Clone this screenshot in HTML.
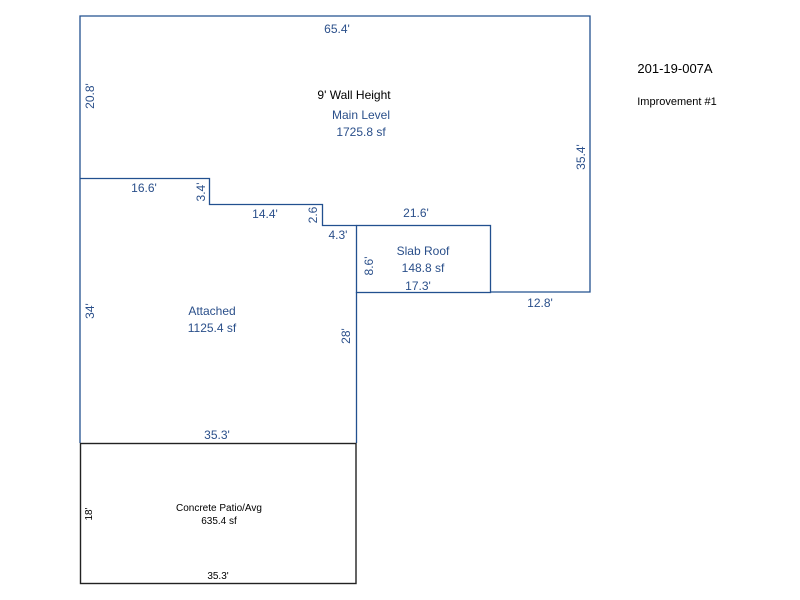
<!DOCTYPE html>
<html><head><style>
html,body{margin:0;padding:0;background:#fff;}
svg{display:block;}
text{font-family:"Liberation Sans",Arial,sans-serif;}
</style></head><body>
<svg width="800" height="600" xmlns="http://www.w3.org/2000/svg">
<g fill="none" stroke="#22508f" stroke-width="1.3">
<polyline points="80,443 80,16 590,16 590,292 490,292"/>
<polyline points="80,178.5 209.5,178.5 209.5,204.5 322.5,204.5 322.5,225.5 356.5,225.5"/>
<rect x="356.5" y="225.5" width="134" height="67"/>
<line x1="356.5" y1="292" x2="356.5" y2="443"/>
</g>
<rect x="80.5" y="443.5" width="275.5" height="140" fill="none" stroke="#222" stroke-width="1.4"/>
<g fill="#2a4f8a" font-size="12">
<text x="337" y="33" text-anchor="middle">65.4'</text>
<text x="361" y="119" text-anchor="middle">Main Level</text>
<text x="361" y="136" text-anchor="middle">1725.8 sf</text>
<text x="144" y="192" text-anchor="middle">16.6'</text>
<text x="265" y="218" text-anchor="middle">14.4'</text>
<text x="338" y="239" text-anchor="middle">4.3'</text>
<text x="416" y="217" text-anchor="middle">21.6'</text>
<text x="423" y="255" text-anchor="middle">Slab Roof</text>
<text x="423" y="272" text-anchor="middle">148.8 sf</text>
<text x="418" y="290" text-anchor="middle">17.3'</text>
<text x="540" y="307" text-anchor="middle">12.8'</text>
<text x="212" y="315" text-anchor="middle">Attached</text>
<text x="212" y="332" text-anchor="middle">1125.4 sf</text>
<text x="217" y="439" text-anchor="middle">35.3'</text>
<text transform="translate(94,96) rotate(-90)" text-anchor="middle">20.8'</text>
<text transform="translate(585,157) rotate(-90)" text-anchor="middle">35.4'</text>
<text transform="translate(205,192) rotate(-90)" text-anchor="middle">3.4'</text>
<text transform="translate(317,215) rotate(-90)" text-anchor="middle">2.6</text>
<text transform="translate(373,266) rotate(-90)" text-anchor="middle">8.6'</text>
<text transform="translate(94,311) rotate(-90)" text-anchor="middle">34'</text>
<text transform="translate(350,336) rotate(-90)" text-anchor="middle">28'</text>
</g>
<g fill="#000">
<text x="354" y="99" font-size="12" text-anchor="middle">9' Wall Height</text>
<text x="675" y="73" font-size="13" text-anchor="middle">201-19-007A</text>
<text x="677" y="105" font-size="11" text-anchor="middle">Improvement #1</text>
<text x="219" y="511" font-size="10" text-anchor="middle">Concrete Patio/Avg</text>
<text x="219" y="524" font-size="10" text-anchor="middle">635.4 sf</text>
<text x="218" y="579" font-size="10" text-anchor="middle">35.3'</text>
<text transform="translate(92,514) rotate(-90)" font-size="10" text-anchor="middle">18'</text>
</g>
</svg>
</body></html>
